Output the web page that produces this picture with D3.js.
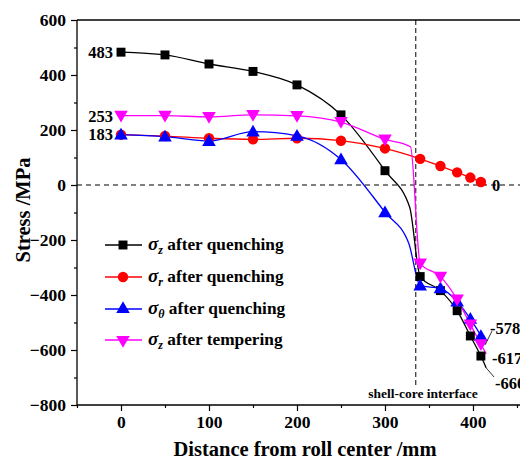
<!DOCTYPE html>
<html><head><meta charset="utf-8">
<script src="https://cdn.jsdelivr.net/npm/d3@7"></script>
<style>body{margin:0;background:#fff}svg{display:block}text{font-family:"Liberation Serif","Times New Roman",serif;font-weight:bold}</style>
</head><body><svg id="c" width="520" height="461"></svg>
<script>
// ---- data ----
const xMarks = [0,50,100,150,200,250,300,340,363,382,397,409];
const szQuench = [483,473,440,413,364,255,52,-333,-384,-457,-549,-622];
const srQuench = [183,178,170,166,170,161,133,95,69,46,27,11];
const stQuench = [183,176,160,194,179,93,-99,-366,-376,-424,-487,-549];
const szTemper = [252,252,248,255,251,229,166,-285,-333,-416,-507,-579];
// extra line knots (no markers): [x, value]
const szQuenchKnots = [[328,-80],[415,-665]];
const srQuenchKnots = [[415,0]];
const stQuenchKnots = [[327,-212],[414,-580]];
const szTemperKnots = [[329,139],[415,-614]];
const xTicks = [0,100,200,300,400];
const yTicks = [-800,-600,-400,-200,0,200,400,600];
const interfaceX = 335;
const legendNames = ["z","r","θ","z"];
const legendSuffix = ["after quenching","after quenching","after quenching","after tempering"];

const svg = d3.select("#c");
const L=77, R=522, T=20, B=405;
const x = d3.scaleLinear().domain([-50, 455.7]).range([L, R]);
const y = d3.scaleLinear().domain([-800, 600]).range([B, T]);

// frame
svg.append("line").attr("x1",L).attr("x2",R).attr("y1",T).attr("y2",T).attr("stroke","#000").attr("stroke-width",1.3);
svg.append("line").attr("x1",R-1).attr("x2",R-1).attr("y1",T).attr("y2",B).attr("stroke","#000").attr("stroke-width",1.3);

// axes
const xAxis = svg.append("g").attr("transform",`translate(0,${B})`)
  .call(d3.axisBottom(x).tickValues(xTicks).tickSize(6).tickPadding(5).tickFormat(d3.format("d")));
const xMinor = svg.append("g").attr("transform",`translate(0,${B})`)
  .call(d3.axisBottom(x).tickValues([-50,50,150,250,350,450]).tickSize(3).tickFormat(""));
const yAxis = svg.append("g").attr("transform",`translate(${L},0)`)
  .call(d3.axisLeft(y).tickValues(yTicks).tickSize(6).tickPadding(5).tickFormat(d3.format("d")));
const yMinor = svg.append("g").attr("transform",`translate(${L},0)`)
  .call(d3.axisLeft(y).tickValues([-700,-500,-300,-100,100,300,500]).tickSize(3).tickFormat(""));
[xAxis,xMinor,yAxis,yMinor].forEach(g=>{
  g.selectAll("path").attr("stroke","#000").attr("stroke-width",1.3);
  g.selectAll("line").attr("stroke","#000").attr("stroke-width",1.2);
  g.selectAll("text").attr("font-size",17.5).attr("font-family","Liberation Serif").attr("font-weight","bold").attr("fill","#000");
});
xAxis.select(".domain").attr("d",`M${L},0H${R}`);
yAxis.select(".domain").attr("d",`M0,${T}V${B}`);
xMinor.select(".domain").remove(); yMinor.select(".domain").remove();

// reference lines
svg.append("line").attr("x1",L).attr("x2",R).attr("y1",y(0)).attr("y2",y(0))
  .attr("stroke","#000").attr("stroke-width",1).attr("stroke-dasharray","5,4");
svg.append("line").attr("x1",x(interfaceX)).attr("x2",x(interfaceX)).attr("y1",T).attr("y2",387)
  .attr("stroke","#000").attr("stroke-width",1).attr("stroke-dasharray","5,3");
svg.append("text").attr("x",423).attr("y",398).attr("text-anchor","middle")
  .attr("font-size",13.5).text("shell-core interface");

// series
const series = [
  {vals: szQuench, knots: szQuenchKnots, color:"#000000", sym:d3.symbolSquare, size:80, rot:0},
  {vals: srQuench, knots: srQuenchKnots, color:"#ff0000", sym:d3.symbolCircle, size:85, rot:0},
  {vals: stQuench, knots: stQuenchKnots, color:"#0000ff", sym:d3.symbolTriangle, size:80, rot:0},
  {vals: szTemper, knots: szTemperKnots, color:"#ff00ff", sym:d3.symbolTriangle, size:80, rot:180},
];
const line = d3.line().x(d=>x(d[0])).y(d=>y(d[1])).curve(d3.curveMonotoneX);
series.forEach(s=>{
  const pts = xMarks.map((xv,i)=>[xv,s.vals[i]]).concat(s.knots).sort((a,b)=>a[0]-b[0]);
  svg.append("path").attr("d",line(pts)).attr("fill","none").attr("stroke",s.color).attr("stroke-width",1.3);
});
series.forEach(s=>{
  svg.append("g").selectAll("path").data(xMarks.map((xv,i)=>[xv,s.vals[i]])).join("path")
    .attr("d",d3.symbol().type(s.sym).size(s.size))
    .attr("transform",d=>`translate(${x(d[0])},${y(d[1])+(s.rot?-1:(s.sym===d3.symbolTriangle?1:0))}) rotate(${s.rot})`)
    .attr("fill",s.color);
});

// value annotations
const ann = [
  {t:"483", x:113, y:szQuench[0], a:"end"},
  {t:"253", x:113, y:szTemper[0], a:"end"},
  {t:"183", x:113, y:srQuench[0]+3, a:"end"},
];
ann.forEach(a=>svg.append("text").attr("x",a.x).attr("y",y(a.y)+6).attr("text-anchor",a.a).attr("font-size",16.5).text(a.t));
svg.append("text").attr("x",492).attr("y",y(0)+6).attr("font-size",16.5).text("0");
svg.append("text").attr("x",490).attr("y",334).attr("font-size",16.5).text("-578");
svg.append("text").attr("x",492).attr("y",364).attr("font-size",16.5).text("-617");
svg.append("text").attr("x",495).attr("y",389).attr("font-size",16.5).text("-660");
svg.append("line").attr("x1",x(414)).attr("y1",y(-580)).attr("x2",492).attr("y2",331).attr("stroke","#000").attr("stroke-width",0.8);
svg.append("line").attr("x1",x(415)).attr("y1",y(-665)).attr("x2",494).attr("y2",377).attr("stroke","#000").attr("stroke-width",0.8);

// legend
const legY = [245,277,309,340];
series.forEach((s,i)=>{
  const g = svg.append("g");
  g.append("line").attr("x1",105).attr("x2",142).attr("y1",legY[i]).attr("y2",legY[i]).attr("stroke",s.color).attr("stroke-width",1.3);
  g.append("path").attr("d",d3.symbol().type(s.sym).size(s.size))
    .attr("transform",`translate(123,${legY[i]}) rotate(${s.rot})`).attr("fill",s.color);
  const t = g.append("text").attr("x",148).attr("y",legY[i]+5).attr("font-size",17.3);
  t.append("tspan").attr("font-style","italic").attr("font-size",19).text("σ");
  t.append("tspan").attr("font-style","italic").attr("font-size",12).attr("dy",4).text(legendNames[i]);
  t.append("tspan").attr("dy",-4).text(" "+legendSuffix[i]);
});

// axis titles
svg.append("text").attr("x",305).attr("y",456).attr("text-anchor","middle").attr("font-size",20.5).text("Distance from roll center /mm");
svg.append("text").attr("transform","translate(30,210) rotate(-90)").attr("text-anchor","middle").attr("font-size",20.5).text("Stress  /MPa");
</script></body></html>
